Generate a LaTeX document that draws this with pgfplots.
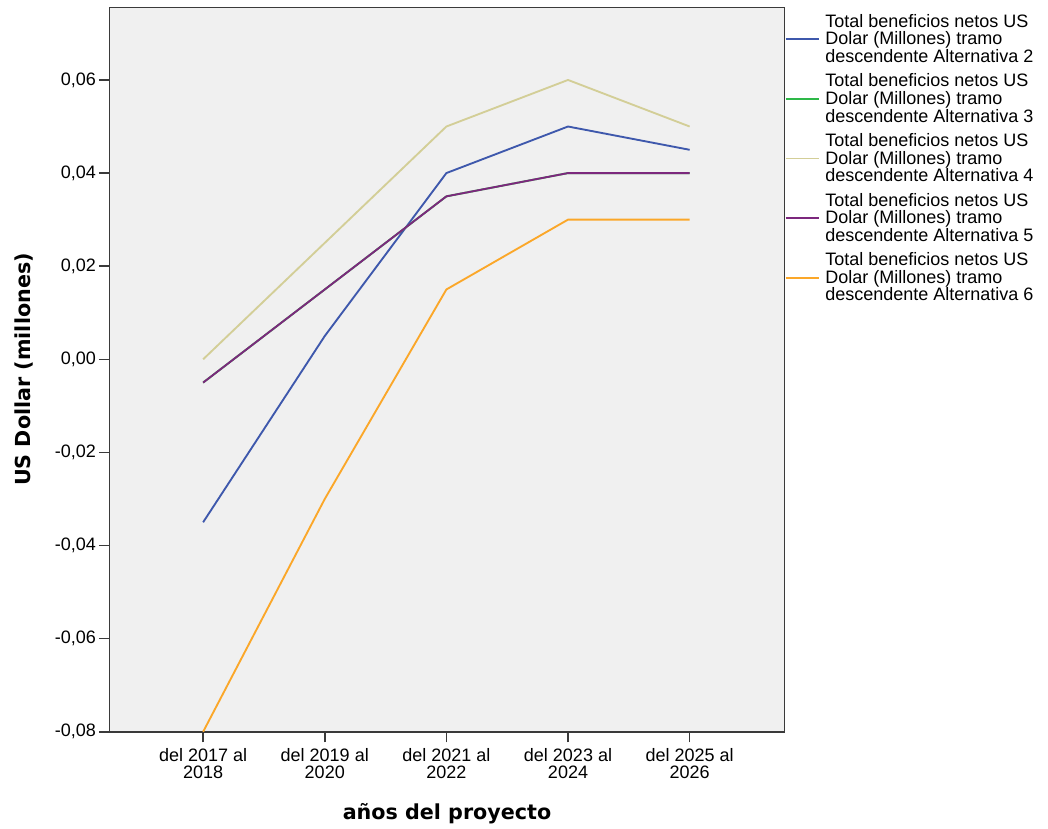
\documentclass[border=0pt]{standalone}
\usepackage{fontspec}
\setmainfont{Liberation Sans}
\newfontfamily\labfont{DejaVu Sans}
\usepackage{pgfplots}
\pgfplotsset{compat=1.18}
\definecolor{c2}{HTML}{3E58AC}
\definecolor{c3}{HTML}{2EB848}
\definecolor{c4}{HTML}{D3CE97}
\definecolor{c5}{HTML}{7C287D}
\definecolor{c6}{HTML}{FBA729}
\definecolor{bgc}{HTML}{F0F0F0}
\definecolor{axc}{HTML}{3A3A3A}
\begin{document}
\begin{tikzpicture}
\begin{axis}[
  scale only axis,
  width=506.25pt, height=543.3pt,
  xmin=-0.77, xmax=4.78, ymin=-0.08, ymax=0.0756,
  axis background/.style={fill=bgc},
  axis line style={axc, line width=1.2pt},
  tick align=outside, major tick length=8pt,
  tick style={axc, line width=1.2pt},
  xtick pos=bottom, ytick pos=left,
  xtick={0,1,2,3,4},
  xticklabels={{del 2017 al\\2018},{del 2019 al\\2020},{del 2021 al\\2022},{del 2023 al\\2024},{del 2025 al\\2026}},
  x tick label style={align=center, font=\fontsize{13.5}{13.2}\selectfont, inner sep=2pt, yshift=-2pt},
  ytick={-0.08,-0.06,-0.04,-0.02,0,0.02,0.04,0.06},
  /pgf/number format/assume math mode=true,
  y tick label style={/pgf/number format/.cd, fixed, fixed zerofill, precision=2, use comma, /tikz/.cd, font=\fontsize{13.5}{13.2}\selectfont, inner sep=2pt},
  scaled y ticks=false,
  xlabel={\labfont\bfseries años del proyecto},
  xlabel style={at={(axis description cs:0.5,-0.099)}, anchor=north, inner sep=0pt, font=\fontsize{15.5}{17}\selectfont},
  ylabel={\labfont\bfseries US Dollar (millones)},
  ylabel style={at={(axis description cs:-0.1407,0.5)}, anchor=north, inner sep=0pt, font=\fontsize{15.5}{17}\selectfont},
  legend style={at={(1,1)}, anchor=north west, yshift=-4pt, draw=none, fill=none, inner sep=0pt, row sep=5pt, column sep=3pt,
    font=\fontsize{13.5}{13.2}\selectfont, nodes={align=left, inner sep=1pt}},
  legend cell align=left,
  legend image code/.code={\draw[#1] (-1.5pt,0pt) -- (23.5pt,0pt);},
  every axis plot/.append style={line width=1.4pt, line join=round},
]
\addplot[c2] coordinates {(0,-0.035) (1,0.005) (2,0.04) (3,0.05) (4,0.045)};
\addlegendentry{Total beneficios netos US\\Dolar (Millones) tramo\\descendente Alternativa 2}
\addplot[c3] coordinates {(0,-0.005) (1,0.015) (2,0.035) (3,0.04) (4,0.04)};
\addlegendentry{Total beneficios netos US\\Dolar (Millones) tramo\\descendente Alternativa 3}
\addplot[c4] coordinates {(0,0.0) (1,0.025) (2,0.05) (3,0.06) (4,0.05)};
\addlegendentry{Total beneficios netos US\\Dolar (Millones) tramo\\descendente Alternativa 4}
\addplot[c5] coordinates {(0,-0.005) (1,0.015) (2,0.035) (3,0.04) (4,0.04)};
\addlegendentry{Total beneficios netos US\\Dolar (Millones) tramo\\descendente Alternativa 5}
\addplot[c6] coordinates {(0,-0.08) (1,-0.03) (2,0.015) (3,0.03) (4,0.03)};
\addlegendentry{Total beneficios netos US\\Dolar (Millones) tramo\\descendente Alternativa 6}
\end{axis}
\pgfresetboundingbox
\path ([shift={(-82.1pt,-72.2pt)}]current axis.south west) rectangle ([shift={(197.6pt,5.5pt)}]current axis.north east);
\end{tikzpicture}
\end{document}
